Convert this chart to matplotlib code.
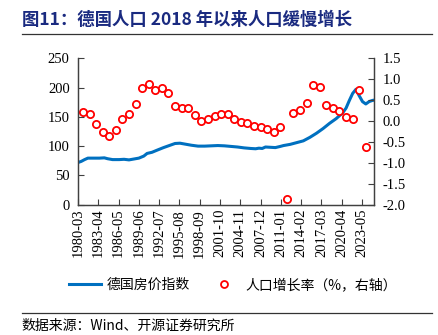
import matplotlib
matplotlib.use("Agg")
import matplotlib.pyplot as plt
from matplotlib.lines import Line2D

plt.rcParams['font.family'] = ['Liberation Serif', 'Noto Sans CJK SC', 'DejaVu Sans']

# 德国房价指数（左轴）
hp_dates = ["1980-03", "1980-09", "1981-03", "1981-09", "1982-06", "1983-06", "1984-03",
            "1984-09", "1985-06", "1986-06", "1987-03", "1987-12", "1988-09", "1989-06",
            "1990-03", "1990-09", "1991-06", "1992-03", "1993-03", "1994-03", "1994-12",
            "1995-09", "1996-06", "1997-06", "1998-06", "1999-06", "2000-06", "2001-06",
            "2002-06", "2003-06", "2004-06", "2005-06", "2006-06", "2007-03", "2007-09",
            "2008-03", "2008-09", "2009-06", "2010-03", "2010-12", "2011-06", "2012-06",
            "2013-06", "2014-06", "2015-06", "2016-06", "2017-06", "2018-06", "2019-06",
            "2020-06", "2020-12", "2021-06", "2021-12", "2022-06", "2022-12", "2023-06",
            "2023-12", "2024-06", "2024-12", "2025-03"]
hp_values = [72, 74, 77, 79.5, 79.5, 79.5, 80,
             78.5, 77, 77, 77.5, 76.5, 78, 79.5,
             83, 87.5, 89.5, 93, 97.5, 101.5, 104.5,
             105, 103.5, 101.5, 100, 100, 100.5, 101,
             100.5, 99.5, 98.5, 97, 96, 95.5, 96.5,
             96, 98.5, 98, 97.5, 99.5, 101, 103,
             106, 109, 115, 122, 130, 139, 147,
             157, 165, 178, 190, 197, 186, 176,
             172, 176, 178, 178.5]

# 人口增长率（%，右轴），年度
pop_years = list(range(1980, 2024))
pop_growth = [0.22, 0.16, -0.08, -0.27, -0.35, -0.22, 0.05, 0.16, 0.40, 0.78,
              0.88, 0.74, 0.78, 0.67, 0.35, 0.30, 0.30, 0.15, 0.01, 0.06,
              0.13, 0.17, 0.18, 0.06, -0.02, -0.05, -0.11, -0.14, -0.19, -0.26,
              -0.15, -1.86, 0.19, 0.27, 0.42, 0.87, 0.82, 0.38, 0.30, 0.23,
              0.09, 0.05, 0.73, -0.62]

tick_labels = ["1980-03", "1983-04", "1986-05", "1989-06", "1992-07", "1995-08",
               "1998-09", "2001-10", "2004-11", "2007-12", "2011-01", "2014-02",
               "2017-03", "2020-04", "2023-05"]


def month_idx(s):
    y, m = s.split("-")
    return (int(y) - 1980) * 12 + int(m) - 3


hp_x = [month_idx(d) for d in hp_dates]
pop_x = [month_idx("%d-12" % y) for y in pop_years]

fig = plt.figure(figsize=(4.39, 3.35), dpi=100)
ax = fig.add_axes([0.1777, 0.389, 0.6743, 0.437])
ax2 = ax.twinx()

blue = "#0070C0"
red = "#FF0000"
ax.plot(hp_x, hp_values, color=blue, lw=2.2)
ax2.plot(pop_x, pop_growth, ls="none", marker="o", ms=5.2, mfc="white",
         mec=red, mew=1.3)

ax.set_xlim(0, 540)
ax.set_ylim(0, 250)
ax.set_yticks(range(0, 251, 50))
r_ticks = [-2.0, -1.5, -1.0, -0.5, 0.0, 0.5, 1.0, 1.5]
ax2.set_ylim(-2.0, 1.5)
ax2.set_yticks(r_ticks)
ax2.set_yticklabels(["%.1f" % v for v in r_ticks])

ax.set_xticks([month_idx(t) for t in tick_labels])
ax.set_xticklabels(tick_labels, rotation=90)

for a in (ax, ax2):
    a.spines["top"].set_visible(False)
    for s in ("left", "right", "bottom"):
        a.spines[s].set_color("#404040")
        a.spines[s].set_linewidth(0.9)
    a.tick_params(direction="in", length=4, width=0.8, color="#404040",
                  labelsize=10.5, pad=3)
ax.tick_params(axis="y", pad=6)
ax2.tick_params(axis="y", pad=6)
ax2.set_zorder(ax.get_zorder() + 1)

# 图例
handles = [Line2D([], [], color=blue, lw=2.2),
           Line2D([], [], ls="none", marker="o", ms=5, mfc="white", mec=red, mew=1.3)]
fig.legend(handles, ["德国房价指数", "人口增长率（%，右轴）"], loc="center",
           bbox_to_anchor=(0.53, 0.149), ncol=2, frameon=False,
           handlelength=2.3, handletextpad=0.4, columnspacing=1.3,
           prop={'family': ['Noto Sans CJK SC'], 'size': 10})

# 标题与来源
fig.text(0.05, 0.94, "图11：德国人口 2018 年以来人口缓慢增长", fontsize=12.5,
         fontweight="bold", color="#1A2A80", va="center", ha="left",
         family=['Noto Sans CJK SC'])
fig.add_artist(Line2D([0.05, 0.984], [0.898, 0.898], color="#333333", lw=0.9))
fig.add_artist(Line2D([0.05, 0.984], [0.066, 0.066], color="#333333", lw=0.9))
fig.text(0.05, 0.028, "数据来源：Wind、开源证券研究所", fontsize=10, va="center",
         ha="left", family=['Noto Sans CJK SC', 'Liberation Serif'])

fig.savefig("out.png", dpi=100)
